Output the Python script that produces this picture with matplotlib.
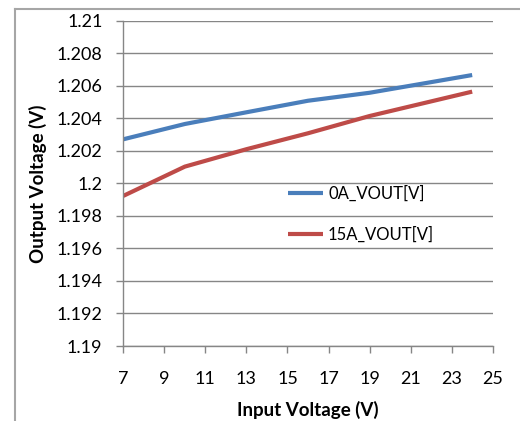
import matplotlib
matplotlib.use('Agg')
import matplotlib.pyplot as plt
from matplotlib.lines import Line2D

# Input voltage sweep and output voltage at two loads
vin = [7, 10, 13, 16, 19, 24]
vout_0a = [1.20271, 1.20365, 1.20437, 1.20508, 1.20557, 1.20666]
vout_15a = [1.19923, 1.20103, 1.20210, 1.20308, 1.20414, 1.20564]

x_ticks = [7, 9, 11, 13, 15, 17, 19, 21, 23, 25]
y_ticks = [1.19, 1.192, 1.194, 1.196, 1.198, 1.2, 1.202, 1.204, 1.206, 1.208, 1.21]
y_labels = ['1.19', '1.192', '1.194', '1.196', '1.198', '1.2', '1.202', '1.204', '1.206', '1.208', '1.21']

plt.rcParams['font.family'] = ['Lato', 'DejaVu Sans']
grid_col = '#868686'

fig = plt.figure(figsize=(5.2, 4.21), dpi=100)
ax = fig.add_axes([0.2371, 0.1781, 0.7104, 0.7727])

ax.plot(vin, vout_0a, color='#4A7EBB', linewidth=3, label='0A_VOUT[V]', solid_capstyle='butt')
ax.plot(vin, vout_15a, color='#BE4B48', linewidth=3, label='15A_VOUT[V]', solid_capstyle='butt')

ax.set_xlim(7, 25)
ax.set_ylim(1.19, 1.21)
ax.set_xticks(x_ticks)
ax.set_yticks(y_ticks)
ax.set_yticklabels(y_labels)
ax.yaxis.grid(True, color=grid_col, linewidth=1)
ax.set_axisbelow(True)

for side in ['top', 'right']:
    ax.spines[side].set_visible(False)
for side in ['left', 'bottom']:
    ax.spines[side].set_color(grid_col)
    ax.spines[side].set_linewidth(1)

ax.tick_params(axis='both', colors=grid_col, length=5, width=1, labelcolor='black', labelsize=13)
ax.tick_params(axis='x', pad=13)
ax.tick_params(axis='y', pad=10)

ax.set_xlabel('Input Voltage (V)', fontsize=13.5, fontweight='bold', labelpad=10)
ax.set_ylabel('Output Voltage (V)', fontsize=13.5, fontweight='bold', labelpad=7)

ax.legend(loc='center left', bbox_to_anchor=(0.446, 0.406), frameon=False,
          borderpad=0, borderaxespad=0, handlelength=2.1, handletextpad=0.3,
          labelspacing=1.5, fontsize=12)

# chart area border (left and top edges visible)
fig.add_artist(Line2D([15 / 520, 15 / 520], [0, 1 - 9 / 421], transform=fig.transFigure,
                      color='#a6a6a6', linewidth=1.5))
fig.add_artist(Line2D([15 / 520, 1], [1 - 9 / 421, 1 - 9 / 421], transform=fig.transFigure,
                      color='#a6a6a6', linewidth=1.5))

plt.savefig('out.png', dpi=100)
plt.close()
